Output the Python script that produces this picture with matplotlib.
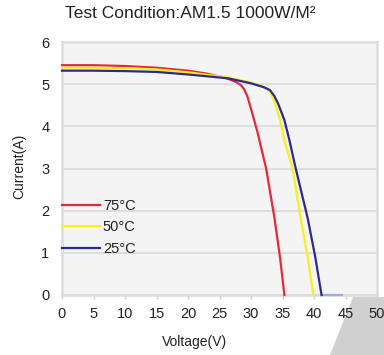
import matplotlib
matplotlib.use("Agg")
import matplotlib.pyplot as plt
from matplotlib.patches import Polygon

plt.rcParams['font.family'] = ['Liberation Sans', 'DejaVu Sans']

# I-V curves of the module at three cell temperatures
v_75 = [0, 5, 10, 15, 20, 23, 25, 26.3, 27.5, 28.4, 28.9, 29.4, 29.8, 30.2, 31.0, 32.4, 33.7, 34.6, 35.3]
i_75 = [5.45, 5.45, 5.43, 5.39, 5.32, 5.25, 5.18, 5.13, 5.06, 4.98, 4.88, 4.72, 4.52, 4.31, 3.88, 3.0, 1.85, 0.9, 0.0]

v_50 = [0, 5, 10, 15, 20, 26.3, 30, 31.5, 32.5, 33.0, 33.5, 33.8, 34.6, 35.3, 36.6, 37.9, 39.0, 39.9]
i_50 = [5.39, 5.39, 5.38, 5.35, 5.28, 5.16, 5.04, 4.97, 4.89, 4.82, 4.68, 4.55, 4.15, 3.67, 3.0, 1.82, 0.9, 0.0]

v_25 = [0, 5, 10, 15, 20, 26.3, 30, 32.0, 33.0, 33.7, 34.3, 35.3, 36.1, 37.1, 39.0, 40.2, 41.2]
i_25 = [5.32, 5.32, 5.31, 5.29, 5.23, 5.14, 5.02, 4.93, 4.86, 4.72, 4.54, 4.15, 3.67, 3.0, 1.82, 0.9, 0.0]

# zero-current tail after open circuit
v_tail = [41.2, 44.6]
i_tail = [0.0, 0.0]

labels = ['75°C', '50°C', '25°C']
colors = ['#e8283a', '#f7ef1e', '#2b2b8e']
x_ticks = [0, 5, 10, 15, 20, 25, 30, 35, 40, 45, 50]
y_ticks = [0, 1, 2, 3, 4, 5, 6]

W, H = 384, 355
fig = plt.figure(figsize=(W / 100, H / 100), dpi=100)
fig.patch.set_facecolor('white')

# folded-corner shading at the lower right
corner = Polygon([(353 / W, 1 - 297 / H), (1, 1 - 297 / H), (1, 0), (330 / W, 0)],
                 closed=True, transform=fig.transFigure, facecolor='#d0d0d0',
                 edgecolor='none', zorder=-5)
fig.patches.append(corner)

ax = fig.add_axes([62 / W, 1 - 295 / H, (377 - 62) / W, (295 - 42) / H])
ax.set_facecolor('#f4f4f4')
ax.set_xlim(0, 50)
ax.set_ylim(0, 6)

for s in ax.spines.values():
    s.set_color('#dcdcdc')
    s.set_linewidth(1.8)

ax.set_yticks(y_ticks)
ax.set_xticks(x_ticks)
ax.grid(axis='y', color='#dedede', linewidth=1.5)
ax.set_axisbelow(True)
ax.tick_params(axis='y', length=0, pad=9, labelsize=10.5, labelcolor='#222222')
ax.tick_params(axis='x', length=3, color='#cccccc', width=1, pad=6,
               labelsize=10.5, labelcolor='#222222')

ax.plot(v_tail, i_tail, color='#a8a8d8', lw=1.6, solid_capstyle='butt',
        zorder=3, clip_on=False)
for v, i, c, lab in zip([v_75, v_50, v_25], [i_75, i_50, i_25], colors, labels):
    ax.plot(v, i, color=c, lw=1.6, label=lab, solid_joinstyle='round',
            zorder=3, clip_on=False)

leg = ax.legend(loc='lower left', bbox_to_anchor=(0.0, 0.155), frameon=False,
                fontsize=10.5, handlelength=2.6, handletextpad=0.2,
                labelspacing=0.5, borderaxespad=0.0, borderpad=0.0)
for t in leg.get_texts():
    t.set_color('#222222')

ax.set_xlabel('Voltage(V)', fontsize=10, color='#222222')
ax.set_ylabel('Current(A)', fontsize=10, color='#222222')
ax.xaxis.set_label_coords(0.422, -0.158)
ax.yaxis.set_label_coords(-0.114, 0.51)

fig.text(190 / W, 1 - 14 / H, 'Test Condition:AM1.5 1000W/M²', ha='center',
         va='center', fontsize=12.5, color='#222222')

fig.savefig('out.png', dpi=100)
